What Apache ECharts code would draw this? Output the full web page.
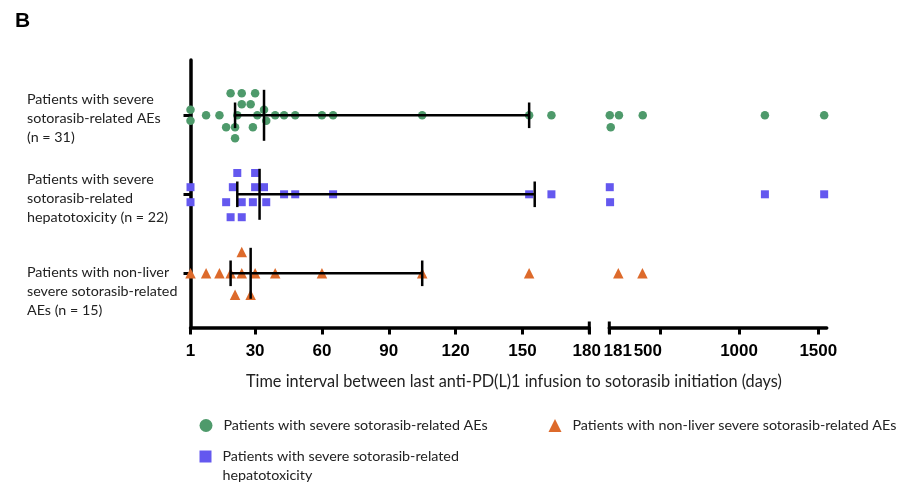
<!DOCTYPE html>
<html>
<head>
<meta charset="utf-8">
<script src="https://cdn.jsdelivr.net/npm/echarts@6/dist/echarts.min.js"></script>
<style>
  html, body { margin: 0; padding: 0; background: #fff; }
  #main { width: 897px; height: 484px; }
</style>
</head>
<body>
<div id="main"></div>
<script>
// series names (legend) and row labels (left side)
var groupNames = [
    'Patients with severe sotorasib-related AEs',
    'Patients with severe sotorasib-related hepatotoxicity',
    'Patients with non-liver severe sotorasib-related AEs'
];
var rowLabels = [
    'Patients with severe\nsotorasib-related AEs\n(n = 31)',
    'Patients with severe\nsotorasib-related\nhepatotoxicity (n = 22)',
    'Patients with non-liver\nsevere sotorasib-related\nAEs (n = 15)'
];
var rowY = [3, 2, 1];

// days from last anti-PD(L)1 infusion, with vertical jitter (row units)
var aeDays = [1, 1, 8, 14, 17, 19, 21, 21, 22, 24, 24, 28, 29, 30, 31, 34, 35, 39, 43, 48, 60, 65, 105, 153, 163, 184, 190, 242, 392, 1163, 1537];
var aeJitter = [0.07, -0.07, 0, 0, -0.15, 0.28, -0.15, -0.29, 0, 0.28, 0.14, 0.14, -0.15, 0.28, 0, 0.07, -0.07, 0, 0, 0, 0, 0, 0, 0, 0, 0, -0.15, 0, 0, 0, 0];
var hepDays = [1, 1, 17, 19, 20, 22, 24, 24, 29, 30, 30, 34, 35, 43, 48, 65, 153, 163, 184, 186, 1163, 1537];
var hepJitter = [0.09, -0.1, -0.1, -0.29, 0.09, 0.27, -0.1, -0.29, -0.1, 0.27, 0.09, 0.09, -0.1, 0, 0, 0, 0, 0, 0.09, -0.1, 0, 0];
var nonLiverDays = [1, 8, 14, 19, 21, 24, 24, 28, 30, 39, 60, 105, 153, 238, 390];
var nonLiverJitter = [0, 0, 0, 0, -0.27, 0.27, 0, -0.27, 0, 0, 0, 0, 0, 0, 0];

// median and interquartile range per row
var medians = [34, 32, 28];
var q1s = [21, 22, 19];
var q3s = [153, 155.5, 105];

// broken x axis
var leftTicks = [1, 30, 60, 90, 120, 150, 180];
var rightTicks = [181, 500, 1000, 1500];
var yMin = 0.314, yMax = 3.7;

var colors = ['#4e9a6b', '#6458ef', '#dd6a2b'];
var symbols = ['circle', 'rect', 'triangle'];
var sizes = [8.5, 8, 10.5];
var allDays = [aeDays, hepDays, nonLiverDays];
var allJitter = [aeJitter, hepJitter, nonLiverJitter];

var myChart = echarts.init(document.getElementById('main'));

var series = [];
for (var k = 0; k < 3; k++) {
    var left = [], right = [];
    for (var i = 0; i < allDays[k].length; i++) {
        var p = [allDays[k][i], rowY[k] + allJitter[k][i]];
        if (p[0] <= 180) left.push(p); else right.push(p);
    }
    [left, right].forEach(function (d, gi) {
        series.push({
            name: groupNames[k],
            type: 'scatter',
            xAxisIndex: gi,
            yAxisIndex: gi,
            symbol: symbols[k],
            symbolSize: sizes[k],
            itemStyle: { color: colors[k], opacity: 1 },
            emphasis: { disabled: true },
            data: d,
            z: 2
        });
    });
}

var barData = [];
for (var k = 0; k < 3; k++) {
    barData.push([q1s[k], medians[k], q3s[k], rowY[k]]);
}

// median + IQR bars
series.push({
    type: 'custom',
    xAxisIndex: 0,
    yAxisIndex: 0,
    z: 5,
    encode: { x: [0, 1, 2], y: 3 },
    data: barData,
    renderItem: function (params, api) {
        var y = api.value(3);
        var a = api.coord([api.value(0), y]);
        var m = api.coord([api.value(1), y]);
        var b = api.coord([api.value(2), y]);
        var st = { stroke: '#000', lineWidth: 2.5 };
        return {
            type: 'group',
            children: [
                { type: 'line', shape: { x1: a[0], y1: a[1], x2: b[0], y2: b[1] }, style: st },
                { type: 'line', shape: { x1: a[0], y1: a[1] - 12.8, x2: a[0], y2: a[1] + 12.8 }, style: st },
                { type: 'line', shape: { x1: b[0], y1: b[1] - 12.8, x2: b[0], y2: b[1] + 12.8 }, style: st },
                { type: 'line', shape: { x1: m[0], y1: m[1] - 25.5, x2: m[0], y2: m[1] + 25.5 }, style: st }
            ]
        };
    }
});

// end caps at the axis break
[180, 181].forEach(function (v, gi) {
    series.push({
        type: 'custom',
        xAxisIndex: gi,
        yAxisIndex: gi,
        z: 6,
        encode: { x: 0, y: 1 },
        data: [[v, yMin]],
        renderItem: function (params, api) {
            var p = api.coord([api.value(0), api.value(1)]);
            return { type: 'line', shape: { x1: p[0], y1: p[1] - 6, x2: p[0], y2: p[1] + 6 }, style: { stroke: '#000', lineWidth: 3 } };
        }
    });
});

var labelStyle = {
    color: '#000',
    fontFamily: 'Liberation Sans',
    fontWeight: 'bold',
    fontSize: 17
};

function xAxisOf(gi, min, max, ticks) {
    return {
        type: 'value',
        gridIndex: gi,
        min: min,
        max: max,
        splitLine: { show: false },
        axisLine: { show: true, onZero: false, lineStyle: { color: '#000', width: 3.5 } },
        axisTick: { show: true, customValues: ticks, length: 7, lineStyle: { color: '#000', width: 3 } },
        axisLabel: Object.assign({
            customValues: ticks,
            margin: 15,
            formatter: function (v) {
                if (v === 180) return '{e|180}';
                if (v === 181) return '{r|181}';
                if (v === 500) return '{l|500}';
                return String(v);
            },
            rich: {
                e: Object.assign({ padding: [0, 5, 0, 0] }, labelStyle),
                r: Object.assign({ padding: [0, 0, 0, 17] }, labelStyle),
                l: Object.assign({ padding: [0, 24, 0, 0] }, labelStyle)
            }
        }, labelStyle)
    };
}

var graphic = [{
    type: 'text',
    left: 15,
    top: 11,
    style: { text: 'B', font: 'bold 21px "Liberation Sans"', fill: '#000' }
}, {
    type: 'text',
    left: 246,
    top: 374,
    style: {
        text: 'Time interval between last anti-PD(L)1 infusion to sotorasib initiation (days)',
        font: '16.3px Lato', fill: '#222'
    }
}];
var labelTops = [90, 170, 263];
for (var k = 0; k < 3; k++) {
    graphic.push({
        type: 'text',
        left: 27,
        top: labelTops[k],
        style: { text: rowLabels[k], font: '14.3px Lato', lineHeight: 18.8, fill: '#222' }
    });
}

var legendText = { fontFamily: 'Lato', fontSize: 14.3, color: '#222', padding: [0, 0, 0, 6] };
var option = {
    animation: false,
    backgroundColor: '#fff',
    graphic: graphic,
    legend: [{
        data: [groupNames[0]], left: 199.5, top: 418.5, padding: 0,
        itemWidth: 13, itemHeight: 13, selectedMode: false, textStyle: legendText
    }, {
        data: [groupNames[2]], left: 548.5, top: 418.5, padding: 0,
        itemWidth: 13, itemHeight: 13, selectedMode: false, textStyle: legendText
    }, {
        data: [groupNames[1]], left: 199.5, top: 428, padding: 0,
        itemWidth: 12, itemHeight: 12, selectedMode: false,
        formatter: function (n) { return '\n' + n.replace(' hepatotoxicity', '\nhepatotoxicity'); },
        textStyle: Object.assign({ lineHeight: 19 }, legendText)
    }],
    grid: [
        { left: 190.5, right: 307.7, top: 60, bottom: 156.5 },
        { left: 609.3, right: 70.3, top: 60, bottom: 156.5 }
    ],
    xAxis: [
        xAxisOf(0, 1, 180, leftTicks),
        xAxisOf(1, 181, 1553, rightTicks)
    ],
    yAxis: [{
        type: 'value',
        gridIndex: 0,
        min: yMin,
        max: yMax,
        splitLine: { show: false },
        axisLine: { show: true, lineStyle: { color: '#000', width: 3.5 } },
        axisTick: { show: true, customValues: rowY, length: 7, lineStyle: { color: '#000', width: 3 } },
        axisLabel: { show: false }
    }, {
        type: 'value',
        gridIndex: 1,
        min: yMin,
        max: yMax,
        show: false
    }],
    series: series
};

myChart.setOption(option);
</script>
</body>
</html>
